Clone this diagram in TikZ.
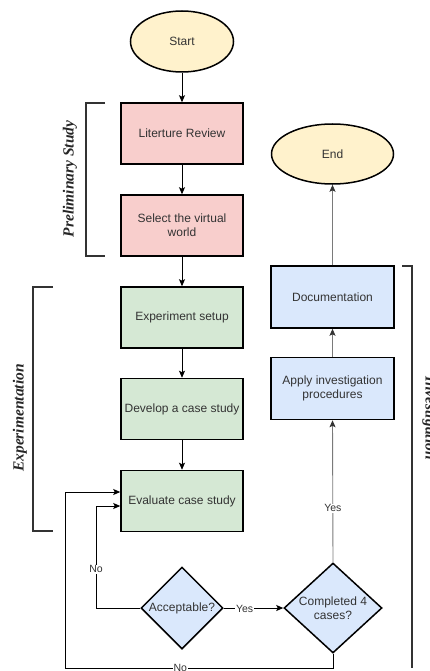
\documentclass[tikz,border=0pt]{standalone}
\usepackage{fontspec}
\setmainfont{Liberation Sans}
\newfontfamily\brfont{Liberation Serif}
\usetikzlibrary{shapes.geometric,arrows.meta}
\definecolor{cyel}{HTML}{FFF2CC}
\definecolor{cred}{HTML}{F8CECC}
\definecolor{cgrn}{HTML}{D5E8D4}
\definecolor{cblu}{HTML}{DAE8FC}
\definecolor{ctxt}{HTML}{333333}
\definecolor{cgry}{HTML}{7A7A7A}
\begin{document}
\begin{tikzpicture}[x=1pt,y=-1pt,
  base/.style={draw=black,line width=1.5pt,text=ctxt,font=\fontsize{12}{14}\selectfont,align=center,inner sep=0pt},
  oval/.style={base,ellipse,fill=cyel},
  boxr/.style={base,rectangle,minimum width=122pt,minimum height=61pt},
  dia/.style={base,diamond,fill=cblu,shape aspect=1},
  txt/.style={text=ctxt,font=\fontsize{12}{14}\selectfont,align=center,inner sep=0pt},
  lbl/.style={text=ctxt,font=\fontsize{10.5}{12}\selectfont,fill=white,inner sep=1pt},
  arr/.style={draw=black,line width=0.9pt,-{Stealth[length=7pt,width=6pt,inset=1.5pt]}},
  garr/.style={draw=cgry,line width=0.9pt,-{Stealth[length=7pt,width=6pt,inset=1.5pt,color=black!80]}},
  brk/.style={draw=black!80,line width=1.6pt},
  btxt/.style={font=\brfont\bfseries\itshape\fontsize{15.5}{18}\selectfont,text=black!85,inner sep=0pt}
]
\useasboundingbox (0,0) rectangle (429,671);

% nodes
\node[oval,minimum width=103pt,minimum height=61pt] (start) at (182,41.5) {Start};
\node[boxr,fill=cred] (lit) at (182,133.5) {Literture Review};
\node[boxr,fill=cred] (sel) at (182,225.5) {Select the virtual\\world};
\node[boxr,fill=cgrn] (exp) at (182,317.5) {Experiment setup};
\node[boxr,fill=cgrn] (dev) at (182,409) {Develop a case study};
\node[boxr,fill=cgrn] (eval) at (182,501) {Evaluate case study};
\node[dia,minimum width=82pt,minimum height=82pt] (acc) at (182,608) {};
\node[txt] (acct) at (acc.center) {Acceptable?};
\node[dia,minimum width=98pt,minimum height=90pt] (comp) at (333,608) {};
\node[txt] (compt) at (comp.center) {Completed 4\\cases?};
\node[boxr,fill=cblu,minimum width=123pt,minimum height=62pt] (app) at (332.5,388.5) {Apply investigation\\procedures};
\node[boxr,fill=cblu,minimum width=123pt,minimum height=62pt] (doc) at (332.5,297) {Documentation};
\node[oval,minimum width=122pt,minimum height=60pt] (endn) at (332.5,154) {End};

% connectors
\draw[arr] (start) -- (lit);
\draw[arr] (lit) -- (sel);
\draw[arr] (sel) -- (exp);
\draw[arr] (exp) -- (dev);
\draw[arr] (dev) -- (eval);
\draw[arr] (acc.east) -- node[lbl,pos=0.35,yshift=-1pt] {Yes} (comp.west);
\coordinate (n1a) at (96,608);
\coordinate (n1b) at (96,506);
\draw[arr] (acc.west) -- (n1a) -- node[lbl,pos=0.38] {No} (n1b) -- (n1b -| eval.west);
\coordinate (n2a) at (333,668);
\coordinate (n2b) at (65,668);
\coordinate (n2c) at (65,492);
\draw[arr] (comp.south) -- (n2a) -- node[lbl,pos=0.57] {No} (n2b) -- (n2c) -- (n2c -| eval.west);
\draw[garr] (comp.north) -- node[lbl,pos=0.38] {Yes} (app.south);
\draw[garr] (app.north) -- (doc.south);
\draw[garr] (doc.north) -- (endn.south);

% brackets
\coordinate (pa) at (105,103); \coordinate (pb) at (86,103);
\coordinate (pc) at (86,256); \coordinate (pd) at (105,256);
\draw[brk] (pa) -- (pb) -- (pc) -- (pd);
\node[btxt,rotate=90] (plab) at (70,179) {Preliminary Study};

\coordinate (ea) at (53,287); \coordinate (eb) at (33,287);
\coordinate (ec) at (33,531); \coordinate (ed) at (53,531);
\draw[brk] (ea) -- (eb) -- (ec) -- (ed);
\node[btxt,rotate=90] (elab) at (20,418) {Experimentation};

\coordinate (ia) at (402,266); \coordinate (ib) at (412,266);
\coordinate (ic) at (412,668);
\draw[brk] (ia) -- (ib) -- (ic);
\node[btxt,rotate=-90,anchor=base] (ilab) at (425.5,418) {Investigation};
\end{tikzpicture}
\end{document}
